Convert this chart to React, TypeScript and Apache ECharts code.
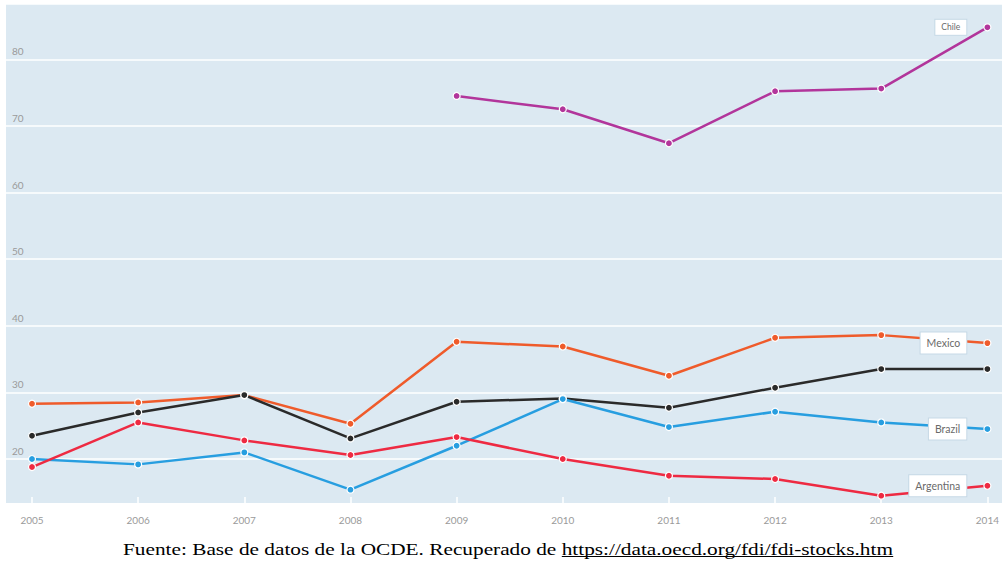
import React, { useEffect, useRef } from 'react';
import * as echarts from 'echarts';

const years = ['2005', '2006', '2007', '2008', '2009', '2010', '2011', '2012', '2013', '2014'];
const chile = [null, null, null, null, 74.5, 72.5, 67.4, 75.2, 75.6, 84.8];
const mexico = [28.3, 28.5, 29.6, 25.3, 37.6, 36.9, 32.5, 38.2, 38.6, 37.4];
const total = [23.5, 27.0, 29.6, 23.1, 28.6, 29.1, 27.7, 30.7, 33.5, 33.5];
const brazil = [20.0, 19.2, 21.0, 15.4, 22.0, 29.0, 24.8, 27.1, 25.5, 24.5];
const argentina = [18.8, 25.5, 22.8, 20.6, 23.3, 20.0, 17.5, 17.0, 14.5, 16.0];

const captionPrefix = 'Fuente: Base de datos de la OCDE. Recuperado de ';
const captionUrl = 'https://data.oecd.org/fdi/fdi-stocks.htm';

const Y_MIN = 10;
const Y_MAX = 88.3;

export default function App() {
  const ref = useRef<HTMLDivElement>(null);

  useEffect(() => {
    document.body.style.margin = '0';
    const chart = echarts.init(ref.current!, null, { renderer: 'svg' });

    const captionFont = '16px "Liberation Serif"';
    const ctx = document.createElement('canvas').getContext('2d')!;
    ctx.font = captionFont;
    const prefixW = ctx.measureText(captionPrefix).width;
    const urlW = ctx.measureText(captionUrl).width;
    const scaleX = 770 / (prefixW + urlW);

    const makeSeries = (name: string, values: (number | null)[], color: string, big: boolean, showLabel: boolean) => ({
      name,
      type: 'line',
      xAxisIndex: 2,
      yAxisIndex: 2,
      data: values.map((v, i) =>
        i === values.length - 1 && showLabel
          ? {
              value: v,
              label: {
                show: true,
                position: 'left',
                distance: 17,
                formatter: name,
                backgroundColor: '#ffffff',
                borderColor: '#c6d9e6',
                borderWidth: 1,
                padding: big ? [5, 6] : [3, 6],
                color: '#6a6a6a',
                fontSize: big ? 10.5 : 8.5,
                fontFamily: 'Lato',
              },
            }
          : v
      ),
      connectNulls: false,
      symbol: 'circle',
      symbolSize: 7,
      showSymbol: true,
      itemStyle: { color, borderColor: '#ffffff', borderWidth: 1.2 },
      lineStyle: { color, width: 2.5 },
      emphasis: { disabled: true },
      z: 3,
    });

    const gridTop = 4;
    const gridBottom = 563 - 525.67;

    const option: any = {
      animation: false,
      backgroundColor: '#ffffff',
      grid: [
        { left: 6, right: 0, top: 4, bottom: 60, show: true, backgroundColor: '#dce9f2', borderWidth: 0, z: 0 },
        { left: 6, right: 0, top: gridTop, bottom: gridBottom, show: false },
        { left: 32, right: 14, top: gridTop, bottom: gridBottom, show: false },
      ],
      xAxis: [
        { gridIndex: 0, type: 'value', show: false },
        { gridIndex: 1, type: 'value', show: false },
        {
          gridIndex: 2,
          type: 'category',
          data: years,
          boundaryGap: false,
          offset: -(525.67 - 503),
          axisLine: { show: false },
          axisTick: { show: true, inside: true, length: 6, lineStyle: { color: '#ffffff', width: 1.5 } },
          axisLabel: { color: '#9a9a9a', fontSize: 10, fontFamily: 'Lato', margin: 12 },
          splitLine: { show: false },
        },
      ],
      yAxis: [
        { gridIndex: 0, type: 'value', show: false },
        {
          gridIndex: 1,
          type: 'value',
          min: Y_MIN,
          max: Y_MAX,
          interval: 10,
          axisLine: { show: false },
          axisTick: { show: false },
          axisLabel: {
            inside: true,
            margin: 6,
            verticalAlign: 'bottom',
            padding: [0, 0, 3, 0],
            color: '#9a9a9a',
            fontSize: 10,
            fontFamily: 'Lato',
            showMinLabel: false,
            showMaxLabel: false,
          },
          splitLine: { show: true, lineStyle: { color: '#ffffff', width: 1.5 } },
          z: 1,
        },
        { gridIndex: 2, type: 'value', min: Y_MIN, max: Y_MAX, show: false },
      ],
      series: [
        makeSeries('Chile', chile, '#b2359b', false, true),
        makeSeries('Mexico', mexico, '#ef5b2b', true, true),
        makeSeries('Total', total, '#2a2a2a', true, false),
        makeSeries('Brazil', brazil, '#279ee0', true, true),
        makeSeries('Argentina', argentina, '#ee2a42', true, true),
      ],
      graphic: [
        {
          type: 'group',
          x: 123,
          y: 549,
          scaleX,
          children: [
            {
              type: 'text',
              x: 0,
              y: 0,
              style: { text: captionPrefix, font: captionFont, fill: '#000000', verticalAlign: 'middle', align: 'left' },
            },
            {
              type: 'text',
              x: prefixW,
              y: 0,
              style: { text: captionUrl, font: captionFont, fill: '#000000', verticalAlign: 'middle', align: 'left' },
            },
            {
              type: 'rect',
              shape: { x: prefixW, y: 7, width: urlW, height: 1 },
              style: { fill: '#000000' },
            },
          ],
        },
      ],
    };

    chart.setOption(option);
    return () => chart.dispose();
  }, []);

  return <div ref={ref} style={{ width: 1002, height: 563 }} />;
}
